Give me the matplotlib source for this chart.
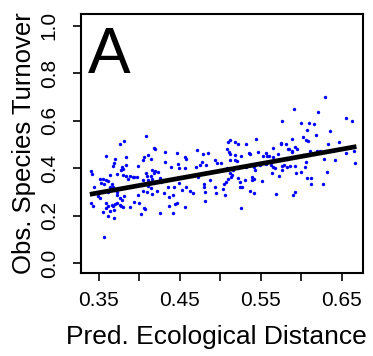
import matplotlib
matplotlib.use("Agg")
import matplotlib.pyplot as plt
import numpy as np

plt.rcParams['font.family'] = ['Liberation Sans', 'DejaVu Sans']

# Predicted ecological distance (x) and observed species turnover (y)
pred_dist = [
    0.408, 0.381, 0.376, 0.418, 0.420, 0.359, 0.432, 0.446, 0.471, 0.479,
    0.485, 0.411, 0.406, 0.414, 0.405, 0.370, 0.383, 0.369, 0.368, 0.383,
    0.379, 0.380, 0.377, 0.341, 0.342, 0.399, 0.416, 0.420, 0.423, 0.418,
    0.414, 0.408, 0.432, 0.439, 0.448, 0.449, 0.457, 0.458, 0.456, 0.470,
    0.477, 0.475, 0.482, 0.493, 0.496,
    0.364, 0.352, 0.355, 0.359, 0.362, 0.353, 0.356, 0.366, 0.364, 0.368,
    0.372, 0.380, 0.383, 0.388, 0.386, 0.392, 0.394, 0.397, 0.405, 0.403,
    0.409, 0.411, 0.416, 0.411, 0.415, 0.425, 0.427, 0.436, 0.443, 0.449,
    0.453, 0.458, 0.462, 0.466, 0.473, 0.480, 0.480, 0.487, 0.493,
    0.344, 0.340, 0.343, 0.349, 0.351, 0.362, 0.372, 0.376, 0.381, 0.379,
    0.372, 0.359, 0.362, 0.366, 0.368, 0.370, 0.373, 0.376, 0.378, 0.380,
    0.359, 0.364, 0.369, 0.355, 0.362, 0.369, 0.388, 0.394, 0.399, 0.400,
    0.406, 0.407, 0.402, 0.404, 0.409, 0.416, 0.422, 0.425, 0.430, 0.437,
    0.442, 0.441, 0.444, 0.447, 0.437, 0.457, 0.481, 0.481, 0.495, 0.356,
    0.629, 0.591, 0.620, 0.576, 0.655, 0.663, 0.600, 0.609, 0.615, 0.607,
    0.635, 0.618, 0.602, 0.606, 0.608, 0.589, 0.647, 0.633, 0.512, 0.510,
    0.518, 0.522, 0.532, 0.544, 0.508, 0.575, 0.575, 0.581, 0.565, 0.583,
    0.585, 0.589, 0.592, 0.595, 0.588, 0.511, 0.512, 0.518, 0.535, 0.537,
    0.546, 0.556, 0.526, 0.518, 0.521, 0.512, 0.553, 0.560, 0.571, 0.602,
    0.611, 0.619, 0.623, 0.628, 0.642, 0.655, 0.665, 0.565, 0.574, 0.582,
    0.501, 0.504, 0.508, 0.516, 0.522, 0.532, 0.541, 0.543, 0.549, 0.556,
    0.562, 0.565, 0.567, 0.564, 0.576, 0.578, 0.582, 0.586, 0.592, 0.606,
    0.605, 0.576, 0.512, 0.515, 0.513, 0.509, 0.507, 0.504, 0.503, 0.506,
    0.522, 0.530, 0.524, 0.539, 0.539, 0.541, 0.524, 0.527, 0.552, 0.572,
    0.594, 0.600, 0.607, 0.612, 0.612, 0.627, 0.632, 0.666, 0.537, 0.541,
    0.569, 0.590, 0.592, 0.526, 0.502, 0.557,
]
obs_turnover = [
    0.536, 0.515, 0.501, 0.487, 0.480, 0.452, 0.470, 0.463, 0.477, 0.460,
    0.466, 0.456, 0.446, 0.438, 0.435, 0.438, 0.446, 0.421, 0.410, 0.414,
    0.404, 0.396, 0.393, 0.390, 0.376, 0.410, 0.391, 0.390, 0.386, 0.379,
    0.367, 0.381, 0.424, 0.407, 0.418, 0.400, 0.446, 0.439, 0.400, 0.404,
    0.425, 0.412, 0.414, 0.435, 0.421,
    0.372, 0.353, 0.356, 0.351, 0.348, 0.337, 0.334, 0.334, 0.323, 0.320,
    0.376, 0.370, 0.367, 0.369, 0.356, 0.362, 0.365, 0.365, 0.351, 0.330,
    0.367, 0.351, 0.353, 0.325, 0.316, 0.358, 0.344, 0.323, 0.323, 0.337,
    0.309, 0.323, 0.306, 0.297, 0.365, 0.334, 0.323, 0.351, 0.323,
    0.323, 0.255, 0.241, 0.283, 0.273, 0.301, 0.287, 0.273, 0.283, 0.266,
    0.301, 0.252, 0.241, 0.245, 0.241, 0.250, 0.252, 0.245, 0.241, 0.238,
    0.231, 0.222, 0.224, 0.217, 0.199, 0.192, 0.236, 0.259, 0.287, 0.252,
    0.231, 0.227, 0.207, 0.306, 0.301, 0.290, 0.304, 0.213, 0.294, 0.280,
    0.287, 0.213, 0.250, 0.252, 0.241, 0.236, 0.264, 0.301, 0.294, 0.112,
    0.701, 0.648, 0.637, 0.600, 0.610, 0.600, 0.592, 0.592, 0.585, 0.561,
    0.557, 0.540, 0.530, 0.519, 0.513, 0.522, 0.511, 0.501, 0.519, 0.509,
    0.512, 0.501, 0.501, 0.522, 0.480, 0.508, 0.502, 0.502, 0.487, 0.481,
    0.480, 0.474, 0.491, 0.481, 0.468, 0.468, 0.460, 0.454, 0.466, 0.460,
    0.470, 0.466, 0.452, 0.435, 0.431, 0.435, 0.452, 0.452, 0.460, 0.456,
    0.473, 0.473, 0.474, 0.438, 0.435, 0.466, 0.474, 0.449, 0.435, 0.439,
    0.421, 0.395, 0.400, 0.393, 0.402, 0.404, 0.404, 0.393, 0.414, 0.417,
    0.412, 0.404, 0.400, 0.381, 0.410, 0.414, 0.407, 0.410, 0.410, 0.424,
    0.407, 0.393, 0.381, 0.372, 0.365, 0.353, 0.344, 0.334, 0.311, 0.287,
    0.360, 0.351, 0.344, 0.365, 0.351, 0.353, 0.323, 0.323, 0.348, 0.367,
    0.381, 0.384, 0.358, 0.358, 0.334, 0.334, 0.386, 0.421, 0.306, 0.294,
    0.290, 0.287, 0.301, 0.234, 0.393, 0.452,
]

# Fitted regression line
fit_x = [0.339, 0.668]
fit_y = [0.290, 0.491]

x_ticks = [0.35, 0.40, 0.45, 0.50, 0.55, 0.60, 0.65]
x_ticklabels = ["0.35", "", "0.45", "", "0.55", "", "0.65"]
y_ticks = [0.0, 0.2, 0.4, 0.6, 0.8, 1.0]
y_ticklabels = ["0.0", "0.2", "0.4", "0.6", "0.8", "1.0"]

fig = plt.figure(figsize=(3.73, 3.56), dpi=100)
ax = fig.add_axes([0.217, 0.233, 0.756, 0.728])

ax.scatter(pred_dist, obs_turnover, s=6, color="#0000ff", linewidths=0, zorder=2)
ax.plot(fit_x, fit_y, color="black", lw=3.4, solid_capstyle="butt", zorder=3)

ax.set_xlim(0.328, 0.676)
ax.set_ylim(-0.041, 1.049)
ax.set_xticks(x_ticks)
ax.set_xticklabels(x_ticklabels, fontsize=15)
ax.set_yticks(y_ticks)
ax.set_yticklabels(y_ticklabels, fontsize=15, rotation=90, va="center")
ax.tick_params(axis="both", direction="out", length=6, width=1.2, color="black")
ax.tick_params(axis="x", pad=7)
ax.tick_params(axis="y", pad=10)
for sp in ax.spines.values():
    sp.set_linewidth(1.5)

ax.set_xlabel("Pred. Ecological Distance", fontsize=19, labelpad=11)
ax.xaxis.label.set_x(0.48)
ax.set_ylabel("Obs. Species Turnover", fontsize=18.5, labelpad=3)

ax.text(0.025, 0.955, "A", transform=ax.transAxes, fontsize=46,
        va="top", ha="left")

fig.savefig("out.png", dpi=100)
